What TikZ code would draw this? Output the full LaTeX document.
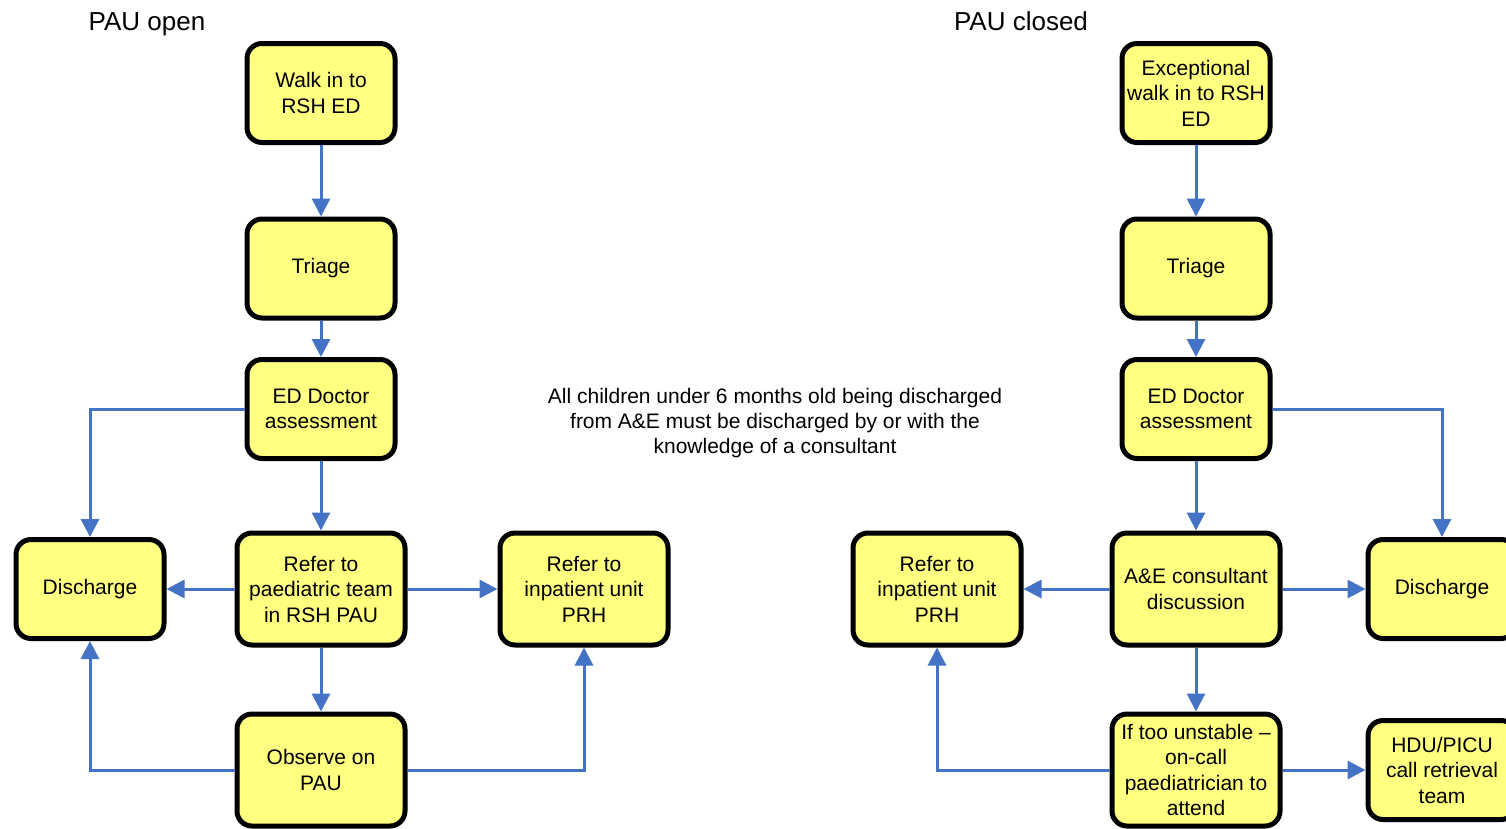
\documentclass[tikz,border=0pt]{standalone}
\usepackage{fontspec}
\setmainfont{Liberation Sans}
\usetikzlibrary{arrows.meta}
\definecolor{boxfill}{HTML}{FFFF80}
\definecolor{flow}{HTML}{4472C4}

\begin{document}
\begin{tikzpicture}[x=1pt,y=-1pt,
  box/.style={draw=black, line width=5pt, fill=boxfill, rounded corners=15pt,
    align=center, font=\fontsize{21}{25.5}\selectfont, inner sep=0pt},
  small/.style={box, minimum width=148pt, minimum height=99pt},
  wide/.style={box, minimum width=168pt, minimum height=112pt},
  link/.style={draw=flow, line width=3pt, -{Triangle[length=18pt,width=18pt]}},
  title/.style={font=\fontsize{26}{30}\selectfont, anchor=base},
]
\useasboundingbox (0,0) rectangle (1506,828);
\clip (0,0) rectangle (1506,828);

% headings and note
\node[title] (topen) at (147,30) {PAU open};
\node[title] (tclosed) at (1021,30) {PAU closed};
\node[align=center, font=\fontsize{21}{25}\selectfont] (note) at (775,423)
  {All children under 6 months old being discharged\\
   from A\&E must be discharged by or with the\\
   knowledge of a consultant};

% PAU open
\node[small] (walk) at (321,93) {Walk in to\\RSH ED};
\node[small] (tri) at (321,268.5) {Triage};
\node[small] (ed) at (321,409) {ED Doctor\\assessment};
\node[wide] (ref) at (321,589) {Refer to\\paediatric team\\in RSH PAU};
\node[small] (dis) at (90,589) {Discharge};
\node[wide] (inp) at (584,589) {Refer to\\inpatient unit\\PRH};
\node[wide] (obs) at (321,770) {Observe on\\PAU};

\draw[link] (walk) -- (tri);
\draw[link] (tri) -- (ed);
\draw[link] (ed) -- (ref);
\draw[link] (ed.west) -| (dis.north);
\draw[link] (ref) -- (dis);
\draw[link] (ref) -- (inp);
\draw[link] (ref) -- (obs);
\draw[link] (obs.west) -| (dis.south);
\draw[link] (obs.east) -| (inp.south);

% PAU closed
\node[small] (xwalk) at (1196,93) {Exceptional\\walk in to RSH\\ED};
\node[small] (xtri) at (1196,268.5) {Triage};
\node[small] (xed) at (1196,409) {ED Doctor\\assessment};
\node[wide] (cons) at (1196,589) {A\&E consultant\\discussion};
\node[small] (xdis) at (1442,589) {Discharge};
\node[wide] (xinp) at (937,589) {Refer to\\inpatient unit\\PRH};
\node[wide] (unst) at (1196,770) {If too unstable --\\on-call\\paediatrician to\\attend};
\node[small] (hdu) at (1442,770) {HDU/PICU\\call retrieval\\team};

\draw[link] (xwalk) -- (xtri);
\draw[link] (xtri) -- (xed);
\draw[link] (xed) -- (cons);
\draw[link] (xed.east) -| (xdis.north);
\draw[link] (cons) -- (xinp);
\draw[link] (cons) -- (xdis);
\draw[link] (cons) -- (unst);
\draw[link] (unst.west) -| (xinp.south);
\draw[link] (unst) -- (hdu);
\end{tikzpicture}
\end{document}
